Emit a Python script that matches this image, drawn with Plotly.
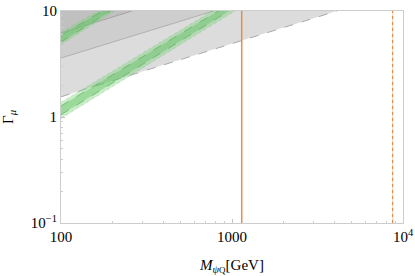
import plotly.graph_objects as go

# ---- data ----
# gray excluded regions: lower boundary points (M in GeV, Gamma_mu)
gray1_M = [100, 4100]
gray1_G = [1.55, 10]
gray2_M = [100, 780]
gray2_G = [3.6, 10]
gray3_M = [100, 260]
gray3_G = [6.2, 10]

# lower green band: outer and inner edges
g1_out_lo_M = [100, 1040]
g1_out_lo_G = [0.97, 10]
g1_out_hi_M = [100, 765]
g1_out_hi_G = [1.38, 10]
g1_in_lo_M = [100, 960]
g1_in_lo_G = [1.05, 10]
g1_in_hi_M = [100, 830]
g1_in_hi_G = [1.27, 10]

# upper green band
g2_out_lo_M = [100, 205]
g2_out_lo_G = [4.8, 10]
g2_out_hi_M = [100, 165]
g2_out_hi_G = [6.3, 10]
g2_in_lo_M = [100, 195]
g2_in_lo_G = [5.1, 10]
g2_in_hi_M = [100, 175]
g2_in_hi_G = [5.9, 10]

# vertical mass bounds
orange_solid_M = 1140
orange_dot_M = 8700

x_tickvals = [100, 1000, 10000]
x_ticktext = ["100", "1000", "10<sup>4</sup>"]
y_tickvals = [0.1, 1, 10]
y_ticktext = ["10<sup>\u22121</sup>", "1", "10"]
x_minor = [200, 300, 400, 500, 600, 700, 800, 900, 2000, 3000, 4000, 5000, 6000, 7000, 8000, 9000]
y_minor = [0.2, 0.3, 0.4, 0.5, 0.6, 0.7, 0.8, 0.9, 2, 3, 4, 5, 6, 7, 8, 9]

XMIN, XMAX, YMIN, YMAX = 100, 10000, 0.1, 10

fig = go.Figure()


def region_above(M, G, color):
    xs = list(M) + [M[0]]
    ys = list(G) + [YMAX]
    fig.add_trace(go.Scatter(x=xs, y=ys, fill="toself", fillcolor=color, mode="lines",
                             line=dict(width=0), hoverinfo="skip", showlegend=False))


def band(lo_M, lo_G, hi_M, hi_G, color):
    xs = list(lo_M) + list(hi_M)[::-1]
    ys = list(lo_G) + list(hi_G)[::-1]
    fig.add_trace(go.Scatter(x=xs, y=ys, fill="toself", fillcolor=color, mode="lines",
                             line=dict(width=0), hoverinfo="skip", showlegend=False))


def line(M, G, color, dash="solid", width=1):
    fig.add_trace(go.Scatter(x=M, y=G, mode="lines", line=dict(color=color, width=width, dash=dash),
                             hoverinfo="skip", showlegend=False))


region_above(gray1_M, gray1_G, "rgba(205,205,205,0.7)")
region_above(gray2_M, gray2_G, "rgba(175,175,175,0.3)")
region_above(gray3_M, gray3_G, "rgba(160,160,160,0.3)")
line(gray1_M, gray1_G, "rgb(170,170,170)", "dash", 1)
line(gray2_M, gray2_G, "rgb(160,160,160)", "solid", 0.7)
line(gray3_M, gray3_G, "rgb(150,150,150)", "solid", 0.7)

for (a, b, c, d, e, f, g, h) in [
    (g1_out_lo_M, g1_out_lo_G, g1_out_hi_M, g1_out_hi_G, g1_in_lo_M, g1_in_lo_G, g1_in_hi_M, g1_in_hi_G),
    (g2_out_lo_M, g2_out_lo_G, g2_out_hi_M, g2_out_hi_G, g2_in_lo_M, g2_in_lo_G, g2_in_hi_M, g2_in_hi_G),
]:
    band(a, b, c, d, "rgba(120,210,120,0.4)")
    band(e, f, g, h, "rgba(90,190,90,0.4)")
    line(e, f, "rgb(90,175,90)", "dash", 0.7)
    line(g, h, "rgb(90,175,90)", "dash", 0.7)
    line(a, b, "rgba(110,200,110,0.6)", "dot", 0.5)
    line(c, d, "rgba(110,200,110,0.6)", "dot", 0.5)

line([orange_solid_M, orange_solid_M], [YMIN, YMAX], "rgba(240,175,120,0.8)", "solid", 1.6)
line([orange_solid_M, orange_solid_M], [YMIN, YMAX], "rgb(220,115,35)", "solid", 0.8)
line([orange_dot_M, orange_dot_M], [YMIN, YMAX], "rgba(240,175,120,0.5)", "solid", 1.2)
line([orange_dot_M, orange_dot_M], [YMIN, YMAX], "rgb(210,105,25)", "dot", 0.8)

font = "Liberation Serif, Times New Roman, serif"
axis_common = dict(
    showline=True, linecolor="rgb(205,205,205)", linewidth=1, mirror=True,
    showgrid=False, zeroline=False, ticks="inside", ticklen=4, tickcolor="rgb(195,195,195)",
    tickfont=dict(family=font, size=15, color="black"), automargin=False,
)

fig.update_xaxes(type="log", range=[2, 4], tickmode="array", tickvals=x_tickvals, ticktext=x_ticktext,
                 minor=dict(tickmode="array", tickvals=x_minor, ticks="inside", ticklen=2,
                            tickcolor="rgb(205,205,205)", showgrid=False),
                 title=dict(text="<i>M</i><sub><i>\u03c8</i><span style='font-size:9px'>Q</span></sub>[GeV]",
                            font=dict(family=font, size=15, color="black")),
                 **axis_common)
fig.update_yaxes(type="log", range=[-1, 1], tickmode="array", tickvals=y_tickvals, ticktext=y_ticktext,
                 minor=dict(tickmode="array", tickvals=y_minor, ticks="inside", ticklen=2,
                            tickcolor="rgb(205,205,205)", showgrid=False),
                 title=dict(text="\u0393<sub><i>\u03bc</i></sub>",
                            font=dict(family=font, size=15, color="black")),
                 **axis_common)

fig.update_layout(width=415, height=276, margin=dict(l=61, r=12, t=11, b=53),
                  paper_bgcolor="white", plot_bgcolor="white", showlegend=False)

fig.write_html("out.html", config={"displayModeBar": False},
               post_script="document.body.style.margin='0';document.body.style.overflow='hidden';")
